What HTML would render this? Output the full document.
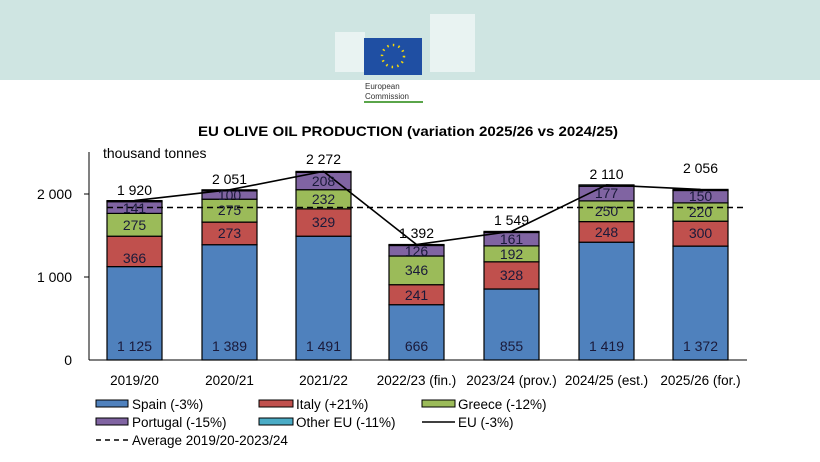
<!DOCTYPE html>
<html><head><meta charset="utf-8"><style>
body{margin:0;width:820px;height:457px;overflow:hidden;background:#fff;font-family:"Liberation Sans Narrow","Liberation Sans",sans-serif}
</style></head><body>
<svg width="820" height="457" viewBox="0 0 820 457" xmlns="http://www.w3.org/2000/svg" font-family="Liberation Sans Narrow, Liberation Sans, sans-serif">
<rect x="0" y="0" width="820" height="80" fill="#cfe5e2"/>
<g fill="#fff" opacity="0.55">
<rect x="335" y="32" width="30" height="40"/><rect x="430" y="14" width="45" height="58"/>
</g>
<rect x="364" y="38" width="58" height="37" fill="#1f4fa3"/>
<circle cx="393" cy="56" r="11" fill="none" stroke="#f5d90a" stroke-width="2.5" stroke-dasharray="1.5 4.2"/>
<rect x="352" y="80" width="80" height="24" fill="#fff"/>
<text x="365" y="89" font-size="8" fill="#333" font-family="Liberation Sans, sans-serif">European</text>
<text x="365" y="99" font-size="8" fill="#333" font-family="Liberation Sans, sans-serif">Commission</text>
<rect x="364" y="101" width="59" height="2" fill="#5aa54a"/>
<text x="198" y="136" font-size="14" font-weight="bold" textLength="420" lengthAdjust="spacingAndGlyphs" font-family="Liberation Sans, sans-serif">EU OLIVE OIL PRODUCTION (variation 2025/26  vs 2024/25)</text>
<text x="103" y="158" font-size="14">thousand tonnes</text>
<g font-size="14" text-anchor="end">
<text x="72" y="199">2 000</text><text x="72" y="282">1 000</text><text x="72" y="365">0</text>
</g>
<line x1="89" y1="152" x2="89" y2="360" stroke="#000"/>
<line x1="89" y1="360" x2="747" y2="360" stroke="#000"/>
<g stroke="#000"><line x1="84" y1="194" x2="89" y2="194"/><line x1="84" y1="277" x2="89" y2="277"/></g>
<g stroke="#000" stroke-width="1.2">
<rect x="107" y="266.6" width="55" height="93.4" fill="#4f81bd"/><rect x="107" y="236.2" width="55" height="30.4" fill="#c0504d"/><rect x="107" y="213.4" width="55" height="22.8" fill="#9bbb59"/><rect x="107" y="201.7" width="55" height="11.7" fill="#8064a2"/><rect x="107" y="200.6" width="55" height="1.1" fill="#4bacc6"/>
<rect x="202" y="244.7" width="55" height="115.3" fill="#4f81bd"/><rect x="202" y="222.1" width="55" height="22.6" fill="#c0504d"/><rect x="202" y="199.2" width="55" height="22.9" fill="#9bbb59"/><rect x="202" y="190.9" width="55" height="8.3" fill="#8064a2"/><rect x="202" y="189.8" width="55" height="1.1" fill="#4bacc6"/>
<rect x="296" y="236.2" width="55" height="123.8" fill="#4f81bd"/><rect x="296" y="208.9" width="55" height="27.3" fill="#c0504d"/><rect x="296" y="189.7" width="55" height="19.2" fill="#9bbb59"/><rect x="296" y="172.4" width="55" height="17.3" fill="#8064a2"/><rect x="296" y="171.4" width="55" height="1" fill="#4bacc6"/>
<rect x="389" y="304.7" width="55" height="55.3" fill="#4f81bd"/><rect x="389" y="284.7" width="55" height="20" fill="#c0504d"/><rect x="389" y="256" width="55" height="28.7" fill="#9bbb59"/><rect x="389" y="245.5" width="55" height="10.5" fill="#8064a2"/><rect x="389" y="244.5" width="55" height="1" fill="#4bacc6"/>
<rect x="484" y="289" width="55" height="71" fill="#4f81bd"/><rect x="484" y="261.8" width="55" height="27.2" fill="#c0504d"/><rect x="484" y="245.9" width="55" height="15.9" fill="#9bbb59"/><rect x="484" y="232.5" width="55" height="13.4" fill="#8064a2"/><rect x="484" y="231.4" width="55" height="1.1" fill="#4bacc6"/>
<rect x="579" y="242.2" width="55" height="117.8" fill="#4f81bd"/><rect x="579" y="221.6" width="55" height="20.6" fill="#c0504d"/><rect x="579" y="200.9" width="55" height="20.7" fill="#9bbb59"/><rect x="579" y="186.2" width="55" height="14.7" fill="#8064a2"/><rect x="579" y="184.9" width="55" height="1.3" fill="#4bacc6"/>
<rect x="673" y="246.1" width="55" height="113.9" fill="#4f81bd"/><rect x="673" y="221.2" width="55" height="24.9" fill="#c0504d"/><rect x="673" y="202.9" width="55" height="18.3" fill="#9bbb59"/><rect x="673" y="190.5" width="55" height="12.4" fill="#8064a2"/><rect x="673" y="189.4" width="55" height="1.1" fill="#4bacc6"/>
</g>
<line x1="107" y1="207.5" x2="747" y2="207.5" stroke="#000" stroke-width="1.6" stroke-dasharray="6 4"/>
<polyline points="134.5,200.6 229.5,189.8 323.5,171.4 416.5,244.5 511.5,231.4 606.5,184.9 700.5,189.4" fill="none" stroke="#000" stroke-width="1.6"/>
<g font-size="14" text-anchor="middle" fill="#1a1a3a">
<text x="134.5" y="351">1 125</text><text x="229.5" y="351">1 389</text><text x="323.5" y="351">1 491</text><text x="416.5" y="351">666</text><text x="511.5" y="351">855</text><text x="606.5" y="351">1 419</text><text x="700.5" y="351">1 372</text>
<text x="134.5" y="263">366</text><text x="229.5" y="238">273</text><text x="323.5" y="227">329</text><text x="416.5" y="300">241</text><text x="511.5" y="280">328</text><text x="606.5" y="237">248</text><text x="700.5" y="238">300</text>
<text x="134.5" y="230">275</text><text x="229.5" y="215">275</text><text x="323.5" y="204">232</text><text x="416.5" y="275">346</text><text x="511.5" y="259">192</text><text x="606.5" y="216">250</text><text x="700.5" y="217">220</text>
<text x="134.5" y="213">141</text><text x="229.5" y="200">100</text><text x="323.5" y="186">208</text><text x="416.5" y="256">126</text><text x="511.5" y="244">161</text><text x="606.5" y="198">177</text><text x="700.5" y="201">150</text>
</g>
<g font-size="14" text-anchor="middle">
<text x="134.5" y="195">1 920</text><text x="229.5" y="184">2 051</text><text x="323.5" y="164">2 272</text><text x="416.5" y="238">1 392</text><text x="511.5" y="225">1 549</text><text x="606.5" y="179">2 110</text><text x="700.5" y="173">2 056</text>
</g>
<g font-size="13.5" text-anchor="middle">
<text x="134.5" y="385">2019/20</text><text x="229.5" y="385">2020/21</text><text x="323.5" y="385">2021/22</text><text x="416.5" y="385">2022/23 (fin.)</text><text x="511.5" y="385">2023/24 (prov.)</text><text x="606.5" y="385">2024/25 (est.)</text><text x="700.5" y="385">2025/26 (for.)</text>
</g>
<g stroke="#000" stroke-width="1">
<rect x="96" y="400" width="32" height="7" fill="#4f81bd"/><rect x="259" y="400" width="34" height="7" fill="#c0504d"/><rect x="422" y="400" width="33" height="7" fill="#9bbb59"/>
<rect x="96" y="418" width="32" height="7" fill="#8064a2"/><rect x="259" y="418" width="34" height="7" fill="#4bacc6"/>
</g>
<line x1="422" y1="422" x2="455" y2="422" stroke="#000" stroke-width="1.5"/>
<line x1="96" y1="440" x2="130" y2="440" stroke="#000" stroke-width="1.5" stroke-dasharray="5 4"/>
<g font-size="13.5">
<text x="132" y="409">Spain (-3%)</text><text x="296" y="409">Italy (+21%)</text><text x="458" y="409">Greece (-12%)</text>
<text x="132" y="427">Portugal (-15%)</text><text x="296" y="427">Other EU (-11%)</text><text x="458" y="427">EU (-3%)</text>
<text x="132" y="445">Average 2019/20-2023/24</text>
</g>
</svg>
</body></html>
